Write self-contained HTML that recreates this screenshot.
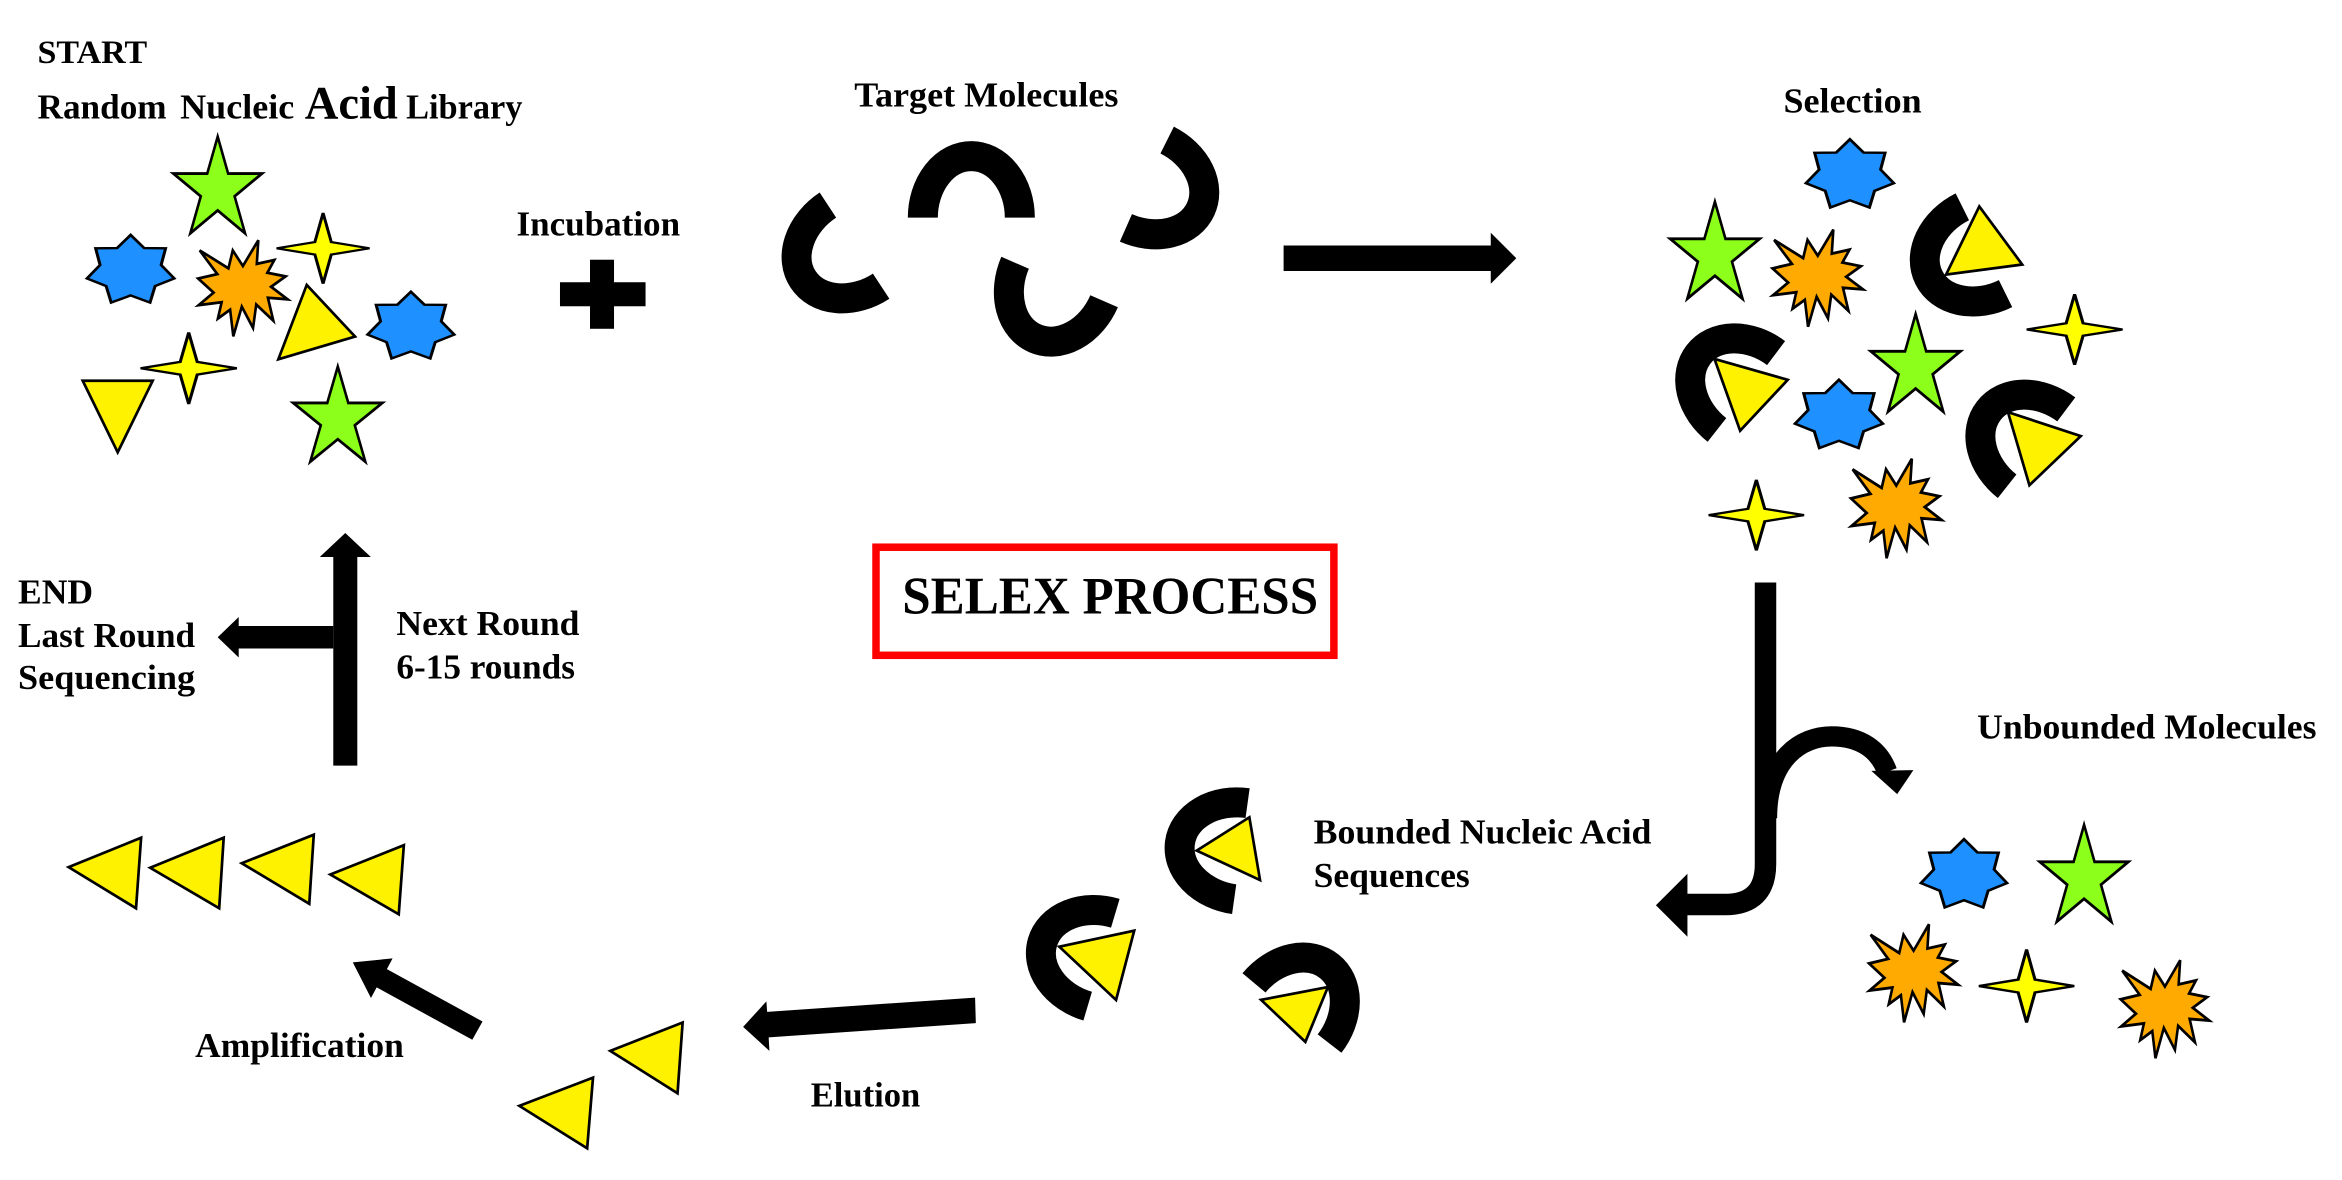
<!DOCTYPE html>
<html>
<head>
<meta charset="utf-8">
<style>
html,body{margin:0;padding:0;background:#fff;overflow:hidden;}
svg{display:block;}
text{font-family:"Liberation Serif","Times New Roman",serif;font-weight:bold;fill:#000;}
</style>
</head>
<body>
<svg width="2342" height="1180" viewBox="0 0 1560 786" preserveAspectRatio="none" xmlns="http://www.w3.org/2000/svg">
<defs>
<polygon id="s5" points="0,-1 0.2245,-0.309 0.9511,-0.309 0.3633,0.118 0.5878,0.809 0,0.382 -0.5878,0.809 -0.3633,0.118 -0.9511,-0.309 -0.2245,-0.309"/>
<polygon id="s7" points="0,-1 0.3037,-0.6307 0.7818,-0.6235 0.6824,-0.1558 0.9749,0.2225 0.5473,0.4365 0.4339,0.901 0,0.7 -0.4339,0.901 -0.5473,0.4365 -0.9749,0.2225 -0.6824,-0.1558 -0.7818,-0.6235 -0.3037,-0.6307"/>
<polygon id="s4" points="0,-1 0.177,-0.177 1,0 0.177,0.177 0,1 -0.177,0.177 -1,0 -0.177,-0.177"/>
<polygon id="bu" points="10800,5800 14522,0 14155,5325 18380,4457 16702,7315 21097,8137 17607,10475 21600,13290 16837,12942 18145,18095 14020,14457 13247,19737 10532,14935 8485,21600 7715,15627 4762,17617 5667,13937 135,14587 3722,11775 0,8615 4627,7617 370,2295 7312,6320 8352,2295"/>
</defs>
<rect x="0" y="0" width="1560" height="786" fill="#fff"/>

<!-- ===== Text labels ===== -->
<text x="25" y="42" font-size="22" textLength="73" lengthAdjust="spacingAndGlyphs">START</text>
<text x="25" y="79" font-size="23.5" textLength="86" lengthAdjust="spacingAndGlyphs">Random</text>
<text x="120" y="79" font-size="23.5" textLength="76" lengthAdjust="spacingAndGlyphs">Nucleic</text>
<text x="203" y="79" font-size="31" textLength="62" lengthAdjust="spacingAndGlyphs">Acid</text>
<text x="270.5" y="79" font-size="23.5" textLength="77.5" lengthAdjust="spacingAndGlyphs">Library</text>
<text x="344" y="157" font-size="23" textLength="109" lengthAdjust="spacingAndGlyphs">Incubation</text>
<text x="569" y="71" font-size="23" textLength="176" lengthAdjust="spacingAndGlyphs">Target  Molecules</text>
<text x="1188" y="75" font-size="23" textLength="92" lengthAdjust="spacingAndGlyphs">Selection</text>
<text x="1317" y="492" font-size="23" textLength="226" lengthAdjust="spacingAndGlyphs">Unbounded Molecules</text>
<text x="875" y="562" font-size="23" textLength="225" lengthAdjust="spacingAndGlyphs">Bounded Nucleic Acid</text>
<text x="875" y="591" font-size="23" textLength="104" lengthAdjust="spacingAndGlyphs">Sequences</text>
<text x="540" y="737" font-size="23" textLength="73" lengthAdjust="spacingAndGlyphs">Elution</text>
<text x="130" y="704" font-size="23" textLength="139" lengthAdjust="spacingAndGlyphs">Amplification</text>
<text x="12" y="402" font-size="23" textLength="50" lengthAdjust="spacingAndGlyphs">END</text>
<text x="12" y="431" font-size="23" textLength="118" lengthAdjust="spacingAndGlyphs">Last Round</text>
<text x="12" y="459" font-size="23" textLength="118" lengthAdjust="spacingAndGlyphs">Sequencing</text>
<text x="264" y="423" font-size="23" textLength="122" lengthAdjust="spacingAndGlyphs">Next Round</text>
<text x="264" y="452" font-size="23" textLength="119" lengthAdjust="spacingAndGlyphs">6-15 rounds</text>

<!-- SELEX box -->
<rect x="583.5" y="364.5" width="305" height="72" fill="#fff" stroke="#ff0000" stroke-width="5"/>
<text x="601" y="408.5" font-size="35" textLength="277" lengthAdjust="spacingAndGlyphs">SELEX PROCESS</text>

<!-- ===== Left cluster (library) ===== -->
<g stroke="#000" stroke-linejoin="miter">
<use href="#s5" transform="translate(145,126.6) scale(31,35.6)" fill="#8cff1a" stroke-width="0.055"/>
<use href="#s7" transform="translate(87,180.2) scale(29.8,23.7)" fill="#1e90ff" stroke-width="0.068"/>
<use href="#bu" transform="translate(132,160) scale(0.002759,0.002963)" fill="#ffaa00" stroke-width="630"/>
<use href="#s4" transform="translate(215.2,165.4) scale(30.9,23.5)" fill="#ffff00" stroke-width="0.065"/>
<polygon points="204.3,189.8 236.5,224.2 185.4,239.3" fill="#fff200" stroke-width="1.8"/>
<use href="#s7" transform="translate(273.7,217.7) scale(29.6,23.4)" fill="#1e90ff" stroke-width="0.068"/>
<polygon points="55.1,253.6 101.7,253.6 78.4,301.3" fill="#fff200" stroke-width="1.8"/>
<use href="#s4" transform="translate(125.7,245.3) scale(32,23.8)" fill="#ffff00" stroke-width="0.065"/>
<use href="#s5" transform="translate(225,279.2) scale(31.2,35)" fill="#8cff1a" stroke-width="0.055"/>
</g>

<!-- Plus -->
<rect x="373" y="188" width="57" height="16" fill="#000"/>
<rect x="393" y="173" width="16" height="46" fill="#000"/>

<!-- ===== Target molecules (block arcs) ===== -->
<g fill="none" stroke="#000" stroke-width="20" stroke-linecap="butt">
<path d="M551.47 136.6 A32.3 41 56.7 0 0 586.93 190.6"/>
<path d="M614.7 145 A32.3 41 0 0 1 679.3 145"/>
<path d="M676.15 175.02 A32.3 41 23.4 0 0 735.45 200.68"/>
<path d="M777.43 93.33 A32.3 41 -64.8 0 1 749.97 151.77"/>
</g>

<!-- Right arrow (top) -->
<polygon points="855,163.5 993,163.5 993,155 1010,172 993,189 993,180.5 855,180.5" fill="#000"/>

<!-- ===== Selection cluster ===== -->
<g stroke="#000" stroke-linejoin="miter">
<use href="#s7" transform="translate(1232.2,116.7) scale(30,23.9)" fill="#1e90ff" stroke-width="0.068"/>
<use href="#s5" transform="translate(1142.3,170.1) scale(31.3,35.7)" fill="#8cff1a" stroke-width="0.055"/>
<use href="#bu" transform="translate(1180.7,153) scale(0.002787,0.002991)" fill="#ffaa00" stroke-width="630"/>
<use href="#s4" transform="translate(1381.9,219.5) scale(31.85,23.5)" fill="#ffff00" stroke-width="0.065"/>
<use href="#s5" transform="translate(1276,245.1) scale(31.3,35.9)" fill="#8cff1a" stroke-width="0.055"/>
<use href="#s7" transform="translate(1224.9,276.9) scale(30,23.9)" fill="#1e90ff" stroke-width="0.068"/>
<use href="#s4" transform="translate(1169.9,343.1) scale(31.7,23.5)" fill="#ffff00" stroke-width="0.065"/>
<use href="#bu" transform="translate(1233,305.6) scale(0.002787,0.003065)" fill="#ffaa00" stroke-width="630"/>
</g>
<g fill="none" stroke="#000" stroke-width="20" stroke-linecap="butt">
<path d="M1307.11 137.72 A32.3 41 63.55 0 0 1335.89 195.58"/>
<path d="M1183.04 235.2 A32.3 41 127.6 0 0 1143.66 286.4"/>
<path d="M1376.34 272.7 A32.3 41 127.6 0 0 1336.96 323.9"/>
</g>
<g fill="#fff200" stroke="#000" stroke-width="1.8">
<polygon points="1318.4,137.5 1347,176.2 1296.3,182.9"/>
<polygon points="1142,239.1 1190.8,253 1159.1,286.9"/>
<polygon points="1337.5,274.5 1386,290.5 1351.8,323.2"/>
</g>

<!-- ===== Bent arrow with branch ===== -->
<g fill="none" stroke="#000" stroke-linecap="butt">
<path d="M1176 388 V575.5 Q1176 602.5 1149 602.5 H1121" stroke-width="14.3"/>
<path d="M1177 545 C1177 505 1200 490.5 1220 490.5 C1240 490.5 1252 500 1257 514" stroke-width="13.5"/>
</g>
<polygon points="1103,603 1124,582 1124,624" fill="#000"/>
<polygon points="1263.7,529 1246.5,513.5 1274.5,513" fill="#000"/>

<!-- ===== Unbounded molecules ===== -->
<g stroke="#000" stroke-linejoin="miter">
<use href="#s7" transform="translate(1308.2,582.9) scale(29.4,23.9)" fill="#1e90ff" stroke-width="0.068"/>
<use href="#s5" transform="translate(1388.2,585.1) scale(31,35.7)" fill="#8cff1a" stroke-width="0.055"/>
<use href="#bu" transform="translate(1245,615.7) scale(0.002745,0.003023)" fill="#ffaa00" stroke-width="630"/>
<use href="#s4" transform="translate(1349.9,656.8) scale(31.7,24.3)" fill="#ffff00" stroke-width="0.065"/>
<use href="#bu" transform="translate(1412.6,639.6) scale(0.002727,0.003023)" fill="#ffaa00" stroke-width="630"/>
</g>

<!-- ===== Bounded nucleic acid sequences ===== -->
<g fill="none" stroke="#000" stroke-width="20" stroke-linecap="butt">
<path d="M831.02 534.95 A32.3 41 -82 0 0 822.08 598.95"/>
<path d="M742.91 608.29 A32.3 41 -73.4 0 0 724.49 670.21"/>
<path d="M835.29 654.66 A32.3 41 38.8 0 1 885.61 695.14"/>
</g>
<g fill="#fff200" stroke="#000" stroke-width="1.8">
<polygon points="797.1,566.6 832.2,544.4 839.3,586.2"/>
<polygon points="705.6,630.6 755.5,619.9 743.4,666.1"/>
<polygon points="840,666 884.5,657.5 869.5,694"/>
</g>

<!-- Elution arrow -->
<polygon points="649.5,664.5 650,681.5 512,691 512.5,700 495,684 510.5,667 511,674" fill="#000"/>

<!-- Eluted triangles -->
<g fill="#fff200" stroke="#000" stroke-width="1.8">
<polygon points="406.5,700 454.7,681.1 451.3,728.2"/>
<polygon points="345.9,736.6 395,717.8 391.1,764.9"/>
</g>

<!-- Amplification arrow -->
<polygon points="235,641 261.5,638.4 257.7,645.5 321.4,680.4 314.6,692.6 250.9,657.7 247.1,664.8" fill="#000"/>

<!-- Amplified triangles row -->
<g fill="#fff200" stroke="#000" stroke-width="1.8">
<polygon points="45.7,577.6 94,558 90.6,605"/>
<polygon points="100,578 149,558 146,605"/>
<polygon points="161,575 209,556 206,602"/>
<polygon points="220,582.5 269,563 265.6,609"/>
</g>

<!-- Next round / END arrows -->
<polygon points="222,510 222,371 213,371 230,355 247,371 238,371 238,510" fill="#000"/>
<polygon points="222,417 159,417 159,411 145,424.5 159,438 159,432 222,432" fill="#000"/>
</svg>
</body>
</html>
